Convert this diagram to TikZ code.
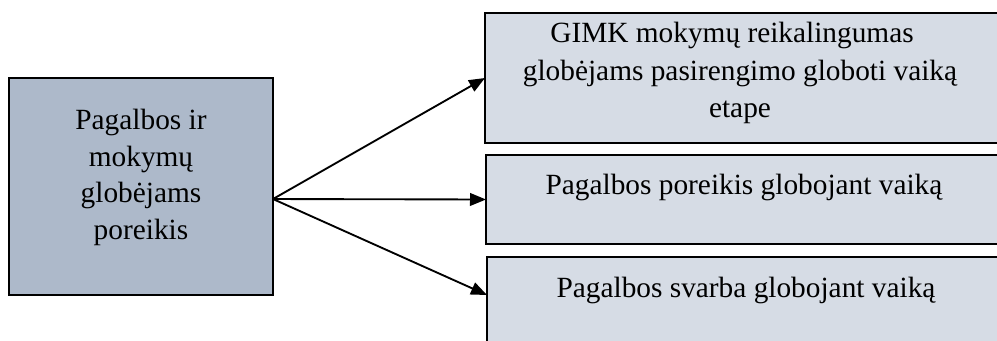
\documentclass[tikz,border=0pt]{standalone}
\usepackage{fontspec}
\setmainfont{Liberation Serif}
\usetikzlibrary{arrows.meta}
\definecolor{leftfill}{HTML}{ADB9CA}
\definecolor{rightfill}{HTML}{D6DCE5}
\tikzset{
  boxL/.style={draw=black, line width=1.6pt, fill=leftfill, inner sep=0pt, outer sep=0pt, rectangle},
  boxR/.style={draw=black, line width=1.6pt, fill=rightfill, inner sep=0pt, outer sep=0pt, rectangle},
  txt/.style={anchor=base, inner sep=0pt, font=\fontsize{22}{28}\selectfont},
  conn/.style={line width=1.4pt, -{Triangle[length=12pt,width=9.5pt]}}
}
\begin{document}
\begin{tikzpicture}[x=0.75pt, y=-0.75pt]
\useasboundingbox (0,0) rectangle (997,341);
\begin{scope}
\clip (0,0) rectangle (997,341);
\node[boxL, minimum width=198pt, minimum height=162.75pt] (src) at (141,186.5) {};
\node[boxR, minimum width=386.25pt, minimum height=97.5pt] (b1) at (742.5,78) {};
\node[boxR, minimum width=385.5pt, minimum height=66.75pt] (b2) at (743,199.5) {};
\node[boxR, minimum width=384.75pt, minimum height=66pt] (b3) at (743.5,301) {};
\end{scope}
\node[txt] (s1) at (141,130) {Pagalbos ir};
\node[txt] (s2) at (141,167) {mokymų};
\node[txt] (s3) at (141,203) {globėjams};
\node[txt] (s4) at (141,240) {poreikis};
\node[txt] (t1) at (732,43) {GIMK mokymų reikalingumas};
\node[txt] (t2) at (740,81) {globėjams pasirengimo globoti vaiką};
\node[txt] (t3) at (740,118) {etape};
\node[txt] (t4) at (744,195) {Pagalbos poreikis globojant vaiką};
\node[txt] (t5) at (746,298) {Pagalbos svarba globojant vaiką};
\coordinate (o) at ([yshift=-9.4pt]src.east);
\draw[conn] (o) -- (b1.west);
\draw[conn] (o) -- (b2.west);
\draw[conn] (o) -- ([yshift=4.5pt]b3.west);
\end{tikzpicture}
\end{document}
